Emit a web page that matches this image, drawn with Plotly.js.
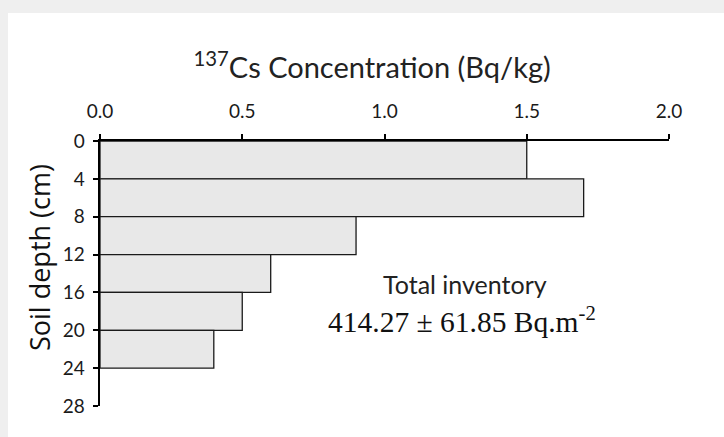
<!DOCTYPE html>
<html>
<head>
<meta charset="utf-8">
<script src="https://cdn.plot.ly/plotly-3.0.1.min.js"></script>
<style>html,body{margin:0;padding:0;background:#efefef;}#chart{width:724px;height:437px;}</style>
</head>
<body>
<div id="chart"></div>
<script>
// Depth intervals (cm) and 137Cs concentration (Bq/kg)
const depthTop = [0, 4, 8, 12, 16, 20];
const depthBottom = [4, 8, 12, 16, 20, 24];
const concentration = [1.5, 1.7, 0.9, 0.6, 0.5, 0.4];
const yTickVals = [0, 4, 8, 12, 16, 20, 24, 28];
const xTickVals = [0, 0.5, 1.0, 1.5, 2.0];
const xTickText = ['0.0', '0.5', '1.0', '1.5', '2.0'];
const titleText = '<sup>137</sup>Cs Concentration (Bq/kg)';
const yTitle = 'Soil depth (cm)';
const noteLine1 = 'Total inventory';
const noteLine2 = '414.27 ± 61.85 Bq.m<sup>-2</sup>';

const mids = depthTop.map((t, i) => (t + depthBottom[i]) / 2);
const widths = depthTop.map((t, i) => depthBottom[i] - t);

const trace = {
  type: 'bar',
  orientation: 'h',
  x: concentration,
  y: mids,
  width: widths,
  marker: {color: '#e8e8e8', line: {color: '#1a1a1a', width: 1.3}},
  hoverinfo: 'x+y'
};

const tickFont = {family: 'Lato, "Open Sans", sans-serif', size: 19, color: '#1a1a1a'};

const layout = {
  width: 724, height: 437,
  paper_bgcolor: '#efefef',
  plot_bgcolor: 'rgba(0,0,0,0)',
  margin: {l: 100, r: 55, t: 141, b: 31},
  showlegend: false,
  title: {
    text: titleText,
    font: {family: 'Lato, "Open Sans", sans-serif', size: 29, color: '#222'},
    xref: 'container', yref: 'container',
    x: 0.514, y: 1 - 68/437, xanchor: 'center', yanchor: 'middle'
  },
  xaxis: {
    side: 'top', range: [0, 2.0], tickvals: xTickVals, ticktext: xTickText,
    showgrid: false, zeroline: false, showline: true, linecolor: '#000', linewidth: 2,
    ticks: 'outside', ticklen: 5, tickwidth: 2, tickcolor: '#000',
    ticklabelstandoff: 8,
    tickfont: tickFont, fixedrange: true
  },
  yaxis: {
    range: [28, 0], tickvals: yTickVals,
    showgrid: false, zeroline: false, showline: true, linecolor: '#000', linewidth: 2.5,
    ticks: 'outside', ticklen: 5, tickwidth: 2, tickcolor: '#000',
    ticklabelstandoff: 4,
    tickfont: tickFont, fixedrange: true
  },
  shapes: [{
    type: 'rect', xref: 'paper', yref: 'paper', layer: 'below',
    x0: (8 - 100) / 569, x1: (730 - 100) / 569,
    y0: (406 - 445) / 265, y1: (406 - 13) / 265,
    fillcolor: '#ffffff', line: {width: 0}
  }],
  annotations: [
    {text: yTitle, xref: 'paper', yref: 'paper', x: (39 - 100) / 569, y: (406 - 258) / 265,
     xanchor: 'center', yanchor: 'middle', showarrow: false, textangle: -90,
     font: {family: '"Open Sans", Lato, sans-serif', size: 27, color: '#111'}},
    {text: noteLine1, xref: 'paper', yref: 'paper', x: (465 - 100) / 569, y: (406 - 284) / 265,
     xanchor: 'center', yanchor: 'middle', showarrow: false,
     font: {family: 'Lato, "Open Sans", sans-serif', size: 25, color: '#222'}},
    {text: noteLine2, xref: 'paper', yref: 'paper', x: (462 - 100) / 569, y: (406 - 320) / 265,
     xanchor: 'center', yanchor: 'middle', showarrow: false,
     font: {family: '"Liberation Serif", "DejaVu Serif", serif', size: 29.5, color: '#111'}}
  ]
};

Plotly.newPlot('chart', [trace], layout, {displayModeBar: false, staticPlot: true});
</script>
</body>
</html>
